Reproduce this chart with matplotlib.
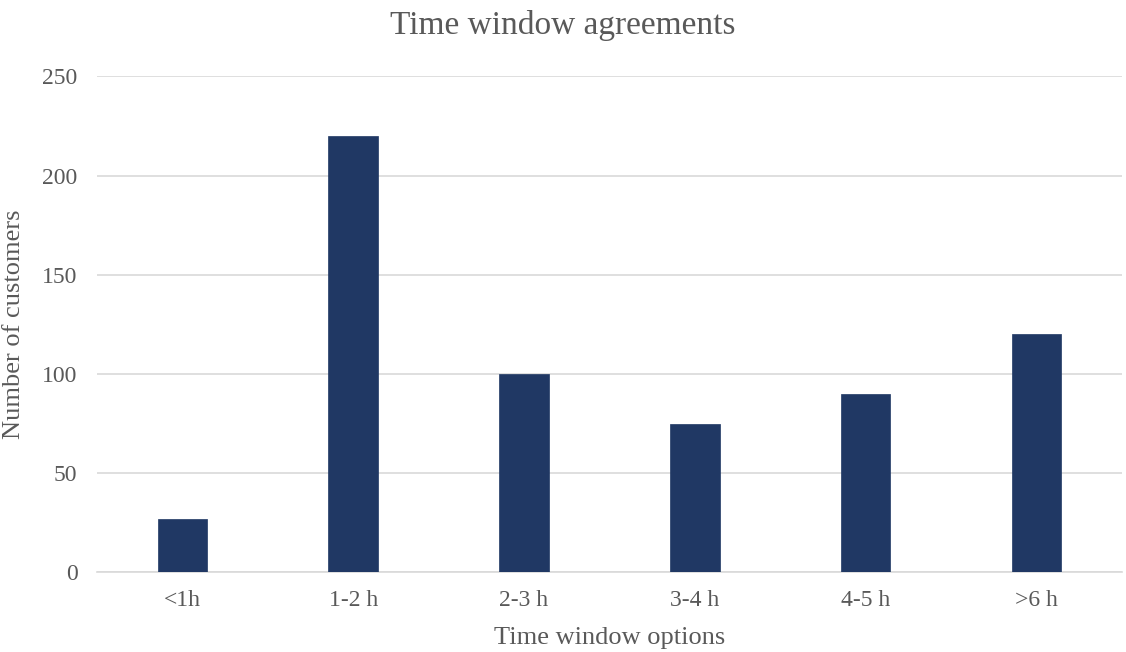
import matplotlib
matplotlib.use("Agg")
import matplotlib.pyplot as plt

categories = ["<1h", "1-2 h", "2-3 h", "3-4 h", "4-5 h", ">6 h"]
customers = [27, 220, 100, 75, 90, 120]
yticks = [0, 50, 100, 150, 200, 250]

plt.rcParams['font.family'] = ['Liberation Serif', 'DejaVu Serif']
gray = '#595959'

fig = plt.figure(figsize=(11.26, 6.52), dpi=100)
ax = fig.add_axes([0.0861, 0.1222, 0.9103, 0.7605])

x = list(range(len(categories)))
ax.bar(x, customers, width=0.29, color='#203864', edgecolor='#203864', linewidth=0.5, zorder=3)

ax.set_xlim(-0.5, len(categories) - 0.5)
ax.set_ylim(0, 250)
ax.set_yticks(yticks)
ax.set_xticks(x)
ax.set_xticklabels(categories)
ax.grid(axis='y', color='#d9d9d9', linewidth=1.2, zorder=0)
for s in ['top', 'right', 'left']:
    ax.spines[s].set_visible(False)
ax.spines['bottom'].set_color('#d9d9d9')
ax.spines['bottom'].set_linewidth(1.2)
ax.tick_params(axis='both', length=0, labelsize=17, colors=gray, pad=13)
ax.tick_params(axis='y', pad=14)

fig.text(0.5, 0.985, "Time window agreements", fontsize=24, color=gray,
         ha='center', va='top')
ax.set_xlabel("Time window options", fontsize=19, color=gray, labelpad=11)
ax.set_ylabel("Number of customers", fontsize=19, color=gray, labelpad=12)

fig.savefig("out.png", dpi=100)
